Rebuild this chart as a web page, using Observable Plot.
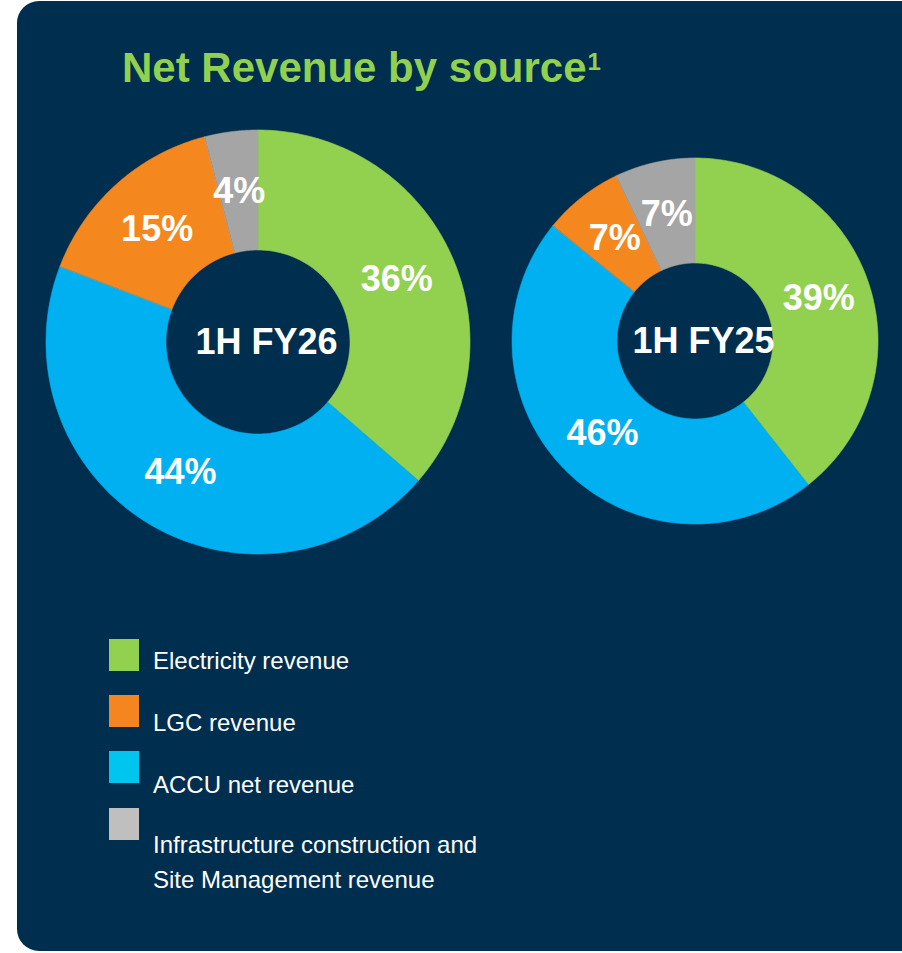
<!DOCTYPE html>
<html>
<head>
<meta charset="utf-8">
<script src="https://cdn.jsdelivr.net/npm/d3@7"></script>
<script src="https://cdn.jsdelivr.net/npm/@observablehq/plot@0.6"></script>
<style>
  html, body { margin: 0; padding: 0; background: #ffffff; overflow: hidden; width: 902px; height: 953px; }
  body { font-family: "Liberation Sans", Arial, sans-serif; position: relative; }
  #panel { position: absolute; left: 17px; top: 1px; width: 920px; height: 950px; background: #002E4E; border-radius: 22px 0 0 22px; }
  #title { position: absolute; left: 122px; top: 47px; font-size: 42px; font-weight: bold; color: #92D050; line-height: 42px; white-space: nowrap; }
  #title sup { font-size: 24px; position: relative; top: 3px; margin-left: 1px; vertical-align: top; line-height: 24px; }
  .donut { position: absolute; }
  .sw { position: absolute; left: 109px; width: 30px; height: 32px; }
  .lt { position: absolute; left: 153px; font-size: 24px; line-height: 24px; color: #ffffff; white-space: nowrap; }
</style>
</head>
<body>
<div id="panel"></div>
<div id="title">Net Revenue by source<sup>1</sup></div>
<div id="d1" class="donut" style="left:38px; top:122px;"></div>
<div id="d2" class="donut" style="left:500px; top:146px;"></div>
<div id="legend"></div>
<script>
// ---- data ----
const categories = ["Electricity revenue", "LGC revenue", "ACCU net revenue", "Infrastructure construction and Site Management revenue"];
const periods = ["1H FY26", "1H FY25"];
const fy26Values = [36, 15, 44, 4];   // % by category
const fy25Values = [39, 7, 46, 7];    // % by category
const sliceOrder = ["Electricity revenue", "ACCU net revenue", "LGC revenue", "Infrastructure construction and Site Management revenue"]; // clockwise from 12 o'clock
const legendLines = [["Electricity revenue"], ["LGC revenue"], ["ACCU net revenue"], ["Infrastructure construction and", "Site Management revenue"]];

// ---- styles ----
const pieColors = ["#92D050", "#F5871F", "#00B0F0", "#A5A5A5"];
const legendColors = ["#92D050", "#F5861F", "#00C5EE", "#BFBFBF"];

function donut(values, period, outerR, innerR, half) {
  const total = d3.sum(values);
  const slices = [];
  const pts = [];
  let acc = 0;
  for (const cat of sliceOrder) {
    const v = values[categories.indexOf(cat)];
    const a0 = acc / total * 2 * Math.PI;
    acc += v;
    const a1 = acc / total * 2 * Math.PI;
    const N = 120;
    for (let k = 0; k <= N; k++) {
      const a = a0 + (a1 - a0) * k / N;
      pts.push({cat, xi: innerR * Math.sin(a), yi: innerR * Math.cos(a), xo: outerR * Math.sin(a), yo: outerR * Math.cos(a)});
    }
    const am = (a0 + a1) / 2, rm = (innerR + outerR) / 2;
    slices.push({cat, label: v + "%", x: rm * Math.sin(am), y: rm * Math.cos(am)});
  }
  return Plot.plot({
    width: 2 * half, height: 2 * half, margin: 0,
    x: {domain: [-half, half], axis: null},
    y: {domain: [-half, half], axis: null},
    color: {domain: categories, range: pieColors},
    style: {background: "transparent", fontFamily: "'Liberation Sans', Arial, sans-serif"},
    marks: [
      Plot.area(pts, {x1: "xi", y1: "yi", x2: "xo", y2: "yo", fill: "cat", z: "cat", stroke: "cat", strokeWidth: 0.6}),
      Plot.text(slices, {x: "x", y: "y", text: "label", fill: "white", fontSize: 36, fontWeight: "bold"}),
      Plot.text([period], {frameAnchor: "middle", text: d => d, dx: 8, fill: "white", fontSize: 36, fontWeight: "bold"})
    ]
  });
}

document.getElementById("d1").append(donut(fy26Values, periods[0], 212, 92, 220));
document.getElementById("d2").append(donut(fy25Values, periods[1], 183, 78, 195));

// ---- legend ----
const swTops = [639, 695, 751, 808];
const baselines = [[669], [731.5], [793], [853, 888]];
const legend = document.getElementById("legend");
categories.forEach((c, i) => {
  const sw = document.createElement("div");
  sw.className = "sw";
  sw.style.top = swTops[i] + "px";
  sw.style.background = legendColors[i];
  legend.append(sw);
  legendLines[i].forEach((line, j) => {
    const t = document.createElement("div");
    t.className = "lt";
    t.textContent = line;
    t.style.top = (baselines[i][j] - 20.3) + "px";
    legend.append(t);
  });
});
</script>
</body>
</html>
